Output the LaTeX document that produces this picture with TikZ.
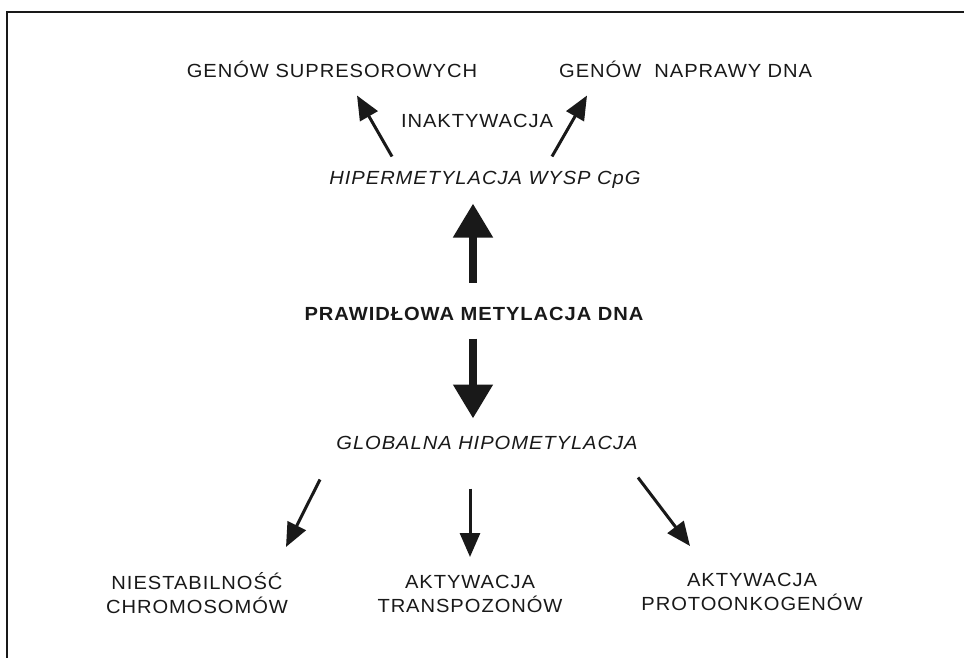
\documentclass[tikz,border=0pt]{standalone}
\usepackage{fontspec}
\setmainfont{Liberation Sans}[LetterSpace=5, FakeStretch=1.06]
\usepackage{tikz}
\usetikzlibrary{arrows.meta}
\tikzset{lbl/.style = {inner sep = 0, text height = 13.6pt, text depth = 0pt}}
\tikzset{lbltwo/.style = {inner sep = 0, align = center}}
\tikzset{thinarr/.style = {line width = 3pt, -{Triangle[length=24pt, width=20pt]}}}
\tikzset{bigarr/.style = {line width = 8pt, -{Triangle[length=34pt, width=38pt]}}}
\definecolor{mtext}{rgb}{0.1, 0.1, 0.1}

\begin{document}
\begin{tikzpicture}[x=1pt, y=-1pt, font=\fontsize{19}{24}\selectfont, color=mtext]
      \useasboundingbox (0, 0) rectangle (964, 658);
      \draw [line width=2pt] (7, 658) -- (7, 12.5) -- (964, 12.5);

      \node [lbl] (supres) at (332, 71) {GENÓW SUPRESOROWYCH};
      \node [lbl, anchor=west] (naprawa) at (559, 71) {GENÓW\ \ NAPRAWY DNA};
      \node [lbl] (inakt) at (477, 121) {INAKTYWACJA};
      \node [lbl, font=\fontsize{19}{24}\selectfont\itshape] (hiper) at (485, 178) {HIPERMETYLACJA WYSP CpG};
      \node [lbl, font=\fontsize{19}{24}\selectfont\bfseries] (prawid) at (474, 314) {PRAWIDŁOWA METYLACJA DNA};
      \node [lbl, font=\fontsize{19}{24}\selectfont\itshape] (global) at (487, 443) {GLOBALNA HIPOMETYLACJA};

      \node [lbltwo] (niestab) at (197, 593) {NIESTABILNOŚĆ\\CHROMOSOMÓW};
      \node [lbltwo] (transp) at (470, 594) {AKTYWACJA\\TRANSPOZONÓW};
      \node [lbltwo] (protoonk) at (752, 592) {AKTYWACJA\\PROTOONKOGENÓW};

      \draw [thinarr] ([shift={(-93, -14.5)}]hiper.north) -- ([shift={(25, 17.5)}]supres.south);
      \draw [thinarr] ([shift={(67, -14.5)}]hiper.north) -- ([shift={(28, 17.5)}]naprawa.south west);

      \draw [bigarr] ([shift={(-1, -24.5)}]prawid.north) -- ([shift={(-12, 18.5)}]hiper.south);
      \draw [bigarr] ([shift={(-1, 17.5)}]prawid.south) -- ([shift={(-14, -17.5)}]global.north);

      \draw [thinarr] ([shift={(-167, 29.5)}]global.south) -- ([shift={(89, -46)}]niestab.center);
      \draw [thinarr] ([shift={(-17, 38.5)}]global.south) -- ([shift={(0, -37)}]transp.center);
      \draw [thinarr] ([shift={(151, 27.5)}]global.south) -- ([shift={(-62, -46)}]protoonk.center);
    \end{tikzpicture}
\end{document}
